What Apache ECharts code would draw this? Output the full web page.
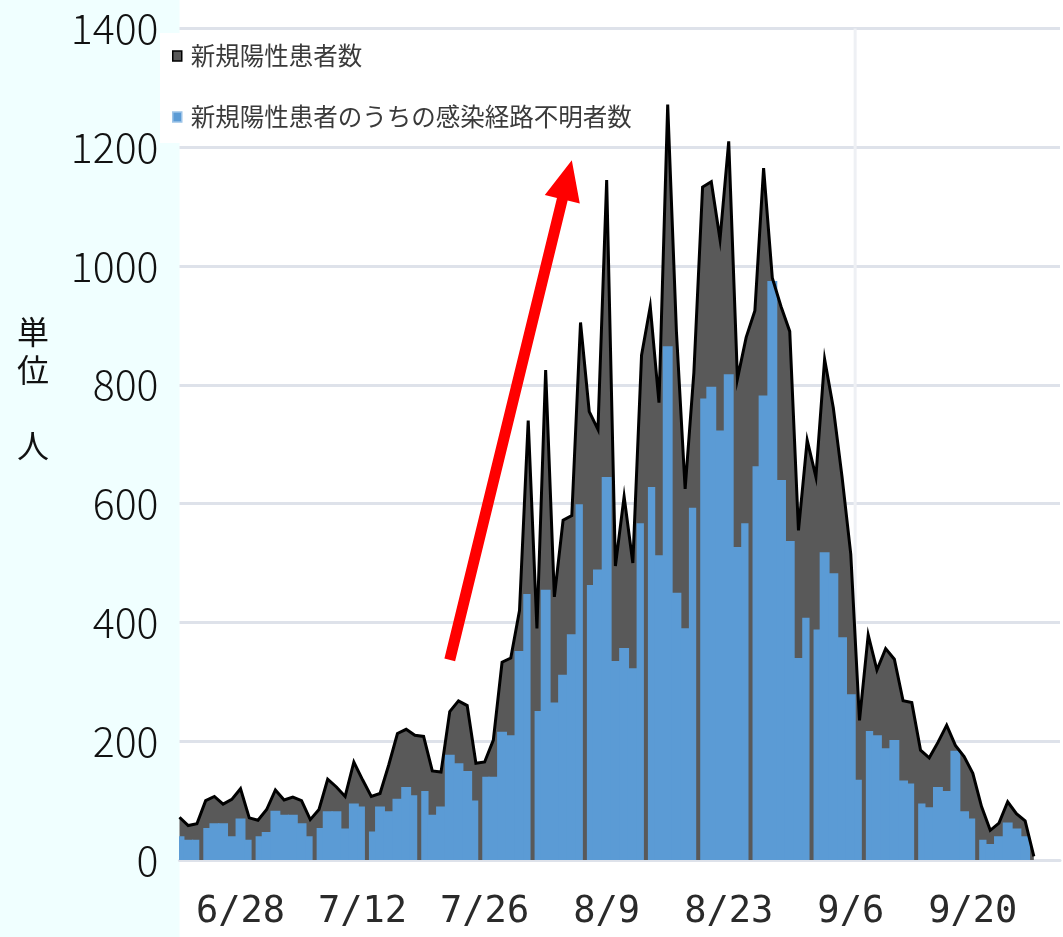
<!DOCTYPE html>
<html><head><meta charset="utf-8">
<script src="https://cdn.jsdelivr.net/npm/echarts@6/dist/echarts.min.js"></script>
<style>html,body{margin:0;padding:0;background:#fff}#c{width:1063px;height:937px}</style>
</head><body><div id="c"></div>
<script>
// ---- data ----
const categories = [
 '6/21','6/22','6/23','6/24','6/25','6/26','6/27','6/28','6/29','6/30',
 '7/1','7/2','7/3','7/4','7/5','7/6','7/7','7/8','7/9','7/10','7/11','7/12','7/13','7/14','7/15','7/16','7/17','7/18','7/19','7/20','7/21','7/22','7/23','7/24','7/25','7/26','7/27','7/28','7/29','7/30','7/31',
 '8/1','8/2','8/3','8/4','8/5','8/6','8/7','8/8','8/9','8/10','8/11','8/12','8/13','8/14','8/15','8/16','8/17','8/18','8/19','8/20','8/21','8/22','8/23','8/24','8/25','8/26','8/27','8/28','8/29','8/30','8/31',
 '9/1','9/2','9/3','9/4','9/5','9/6','9/7','9/8','9/9','9/10','9/11','9/12','9/13','9/14','9/15','9/16','9/17','9/18','9/19','9/20','9/21','9/22','9/23','9/24','9/25','9/26','9/27','9/28','9/29','9/30'
];
const tickLabels = ['6/28','7/12','7/26','8/9','8/23','9/6','9/20'];
const seriesNames = ['新規陽性患者数','新規陽性患者のうちの感染経路不明者数'];
const newPositive = [
 72,58,61,100,107,94,102,120,71,67,
 85,118,101,106,100,68,85,136,123,107,
 165,135,107,112,160,213,220,210,208,150,
 148,250,268,260,163,165,202,333,340,420,
 740,390,825,443,572,580,905,755,725,1145,
 495,612,500,850,932,770,1272,890,625,820,
 1133,1142,1045,1210,810,880,925,1165,980,932,
 890,555,707,645,843,761,645,515,235,379,
 320,356,338,268,265,185,172,198,227,193,
 174,146,90,50,62,98,78,66,6
];
const unknownRoute = [
 40,34,34,54,62,62,40,70,34,40,
 47,83,76,76,62,40,54,82,82,53,
 95,90,48,90,82,103,123,109,116,76,
 90,177,163,150,100,140,140,216,210,352,
 448,251,455,265,312,380,599,463,489,645,
 335,357,323,567,628,513,865,450,390,593,
 777,797,723,818,527,567,663,782,975,640,
 537,340,408,388,518,483,375,279,135,217,
 210,188,202,134,129,95,89,123,116,184,
 82,70,34,27,40,63,53,40,0
];
const yMin = 0, yMax = 1400, yStep = 200;
const yAxisTitle = '単\n位\n\n人';

// ---- style ----
const GRAY = '#595959', BLUE = '#5B9BD5', GRID = '#DEE2EA', CYAN = '#F0FFFF';
const blueGapAfter = [2,8,15,21,27,34,40,46,53,59,65,72,78,84,91];

const chart = echarts.init(document.getElementById('c'), null, {renderer:'canvas'});
const option = {
  backgroundColor: '#ffffff',
  animation: false,
  grid: {left: 179.5, top: 28.5, right: 3, bottom: 77, containLabel: false},
  legend: {
    orient: 'vertical', left: 160, top: 33,
    backgroundColor: '#ffffff',
    padding: [8, 12, 11, 12],
    itemGap: 31, itemWidth: 9, itemHeight: 10,
    textStyle: {fontFamily: 'Noto Sans CJK JP', fontSize: 24.5, color: '#3a3a3a', lineHeight: 30, padding: [0,0,0,4]},
    data: [
      {name: seriesNames[0], icon: 'rect', itemStyle: {color: GRAY, borderColor: '#000', borderWidth: 1.5}},
      {name: seriesNames[1], icon: 'rect', itemStyle: {color: BLUE, borderColor: '#9cc3e8', borderWidth: 1.5}}
    ]
  },
  xAxis: {
    type: 'category', data: categories, boundaryGap: false,
    axisLine: {show: true, lineStyle: {color: GRID, width: 3}},
    axisTick: {show: false},
    splitLine: {show: false},
    axisLabel: {
      interval: (i, v) => tickLabels.includes(v),
      fontFamily: 'DejaVu Sans Mono', fontSize: 37, color: '#2a2a2a', margin: 34
    }
  },
  yAxis: {
    type: 'value', min: yMin, max: yMax, interval: yStep,
    axisLine: {show: false}, axisTick: {show: false},
    splitLine: {show: true, lineStyle: {color: GRID, width: 3}},
    axisLabel: {fontFamily: 'Noto Sans CJK JP', fontSize: 41, color: '#111', margin: 21, fontWeight: 300,
                formatter: v => String(v)}
  },
  series: [
    {
      name: seriesNames[0], type: 'line', data: newPositive, z: 2,
      showSymbol: false, symbol: 'none', lineStyle: {width: 0},
      areaStyle: {color: GRAY, opacity: 1}
    },
    {
      name: seriesNames[1], type: 'custom', z: 3, clip: true,
      itemStyle: {color: BLUE},
      encode: {x: 0, y: 1},
      data: unknownRoute.map((v, i) => [i, v]),
      renderItem: function (params, api) {
        const idx = api.value(0), v = api.value(1);
        if (v == null || isNaN(v) || v <= 0) return null;
        const top = api.coord([idx, v]);
        const base = api.coord([idx, 0]);
        const w = api.size([1, 0])[0];
        let x0 = top[0] - w / 2 - 0.6, x1 = top[0] + w / 2 + 0.6;
        if (blueGapAfter.includes(idx)) x1 -= 2.6;
        if (blueGapAfter.includes(idx - 1)) x0 += 2.6;
        return {type: 'rect', shape: {x: x0, y: top[1], width: x1 - x0, height: base[1] - top[1]},
                style: {fill: BLUE}};
      }
    },
    {
      name: seriesNames[0], type: 'line', data: newPositive, z: 4,
      showSymbol: false, symbol: 'none',
      lineStyle: {color: '#000', width: 3, join: 'miter'}
    }
  ]
};
chart.setOption(option);

// annotation elements positioned through the chart's own coordinate system
const px = (i, v) => chart.convertToPixel({gridIndex: 0}, [i, v]);
const tail = px(31, 337), tip = px(45, 1178);
const dx = tip[0] - tail[0], dy = tip[1] - tail[1];
const L = Math.hypot(dx, dy), ux = dx / L, uy = dy / L, nx = -uy, ny = ux;
const shaftW = 11, headW = 36, headL = 40;
const hb = [tip[0] - ux * headL, tip[1] - uy * headL];
const arrowPts = [
  [tail[0] + nx * shaftW / 2, tail[1] + ny * shaftW / 2],
  [hb[0] + nx * shaftW / 2, hb[1] + ny * shaftW / 2],
  [hb[0] + nx * headW / 2, hb[1] + ny * headW / 2],
  tip,
  [hb[0] - nx * headW / 2, hb[1] - ny * headW / 2],
  [hb[0] - nx * shaftW / 2, hb[1] - ny * shaftW / 2],
  [tail[0] - nx * shaftW / 2, tail[1] - ny * shaftW / 2]
];
const a = px(77, 0), b = px(78, 0), topPt = px(77, yMax);
const frameX = (a[0] + b[0]) / 2;

chart.setOption({
  graphic: [
    {type: 'rect', z: -100, shape: {x: 0, y: 0, width: 179.5, height: 937}, style: {fill: CYAN}, silent: true},
    {type: 'line', z: 1, shape: {x1: frameX, y1: topPt[1], x2: frameX, y2: a[1]}, style: {stroke: '#EEF0F4', lineWidth: 3}, silent: true},
    {type: 'polygon', z: 100, shape: {points: arrowPts}, style: {fill: '#FF0000'}, silent: true},
    {type: 'text', z: 100, x: 33, y: 313, style: {text: yAxisTitle, fontFamily: 'Noto Sans CJK JP', fontSize: 32, lineHeight: 38, fill: '#111', textAlign: 'center', textVerticalAlign: 'top'}}
  ]
});
</script>
</body></html>
